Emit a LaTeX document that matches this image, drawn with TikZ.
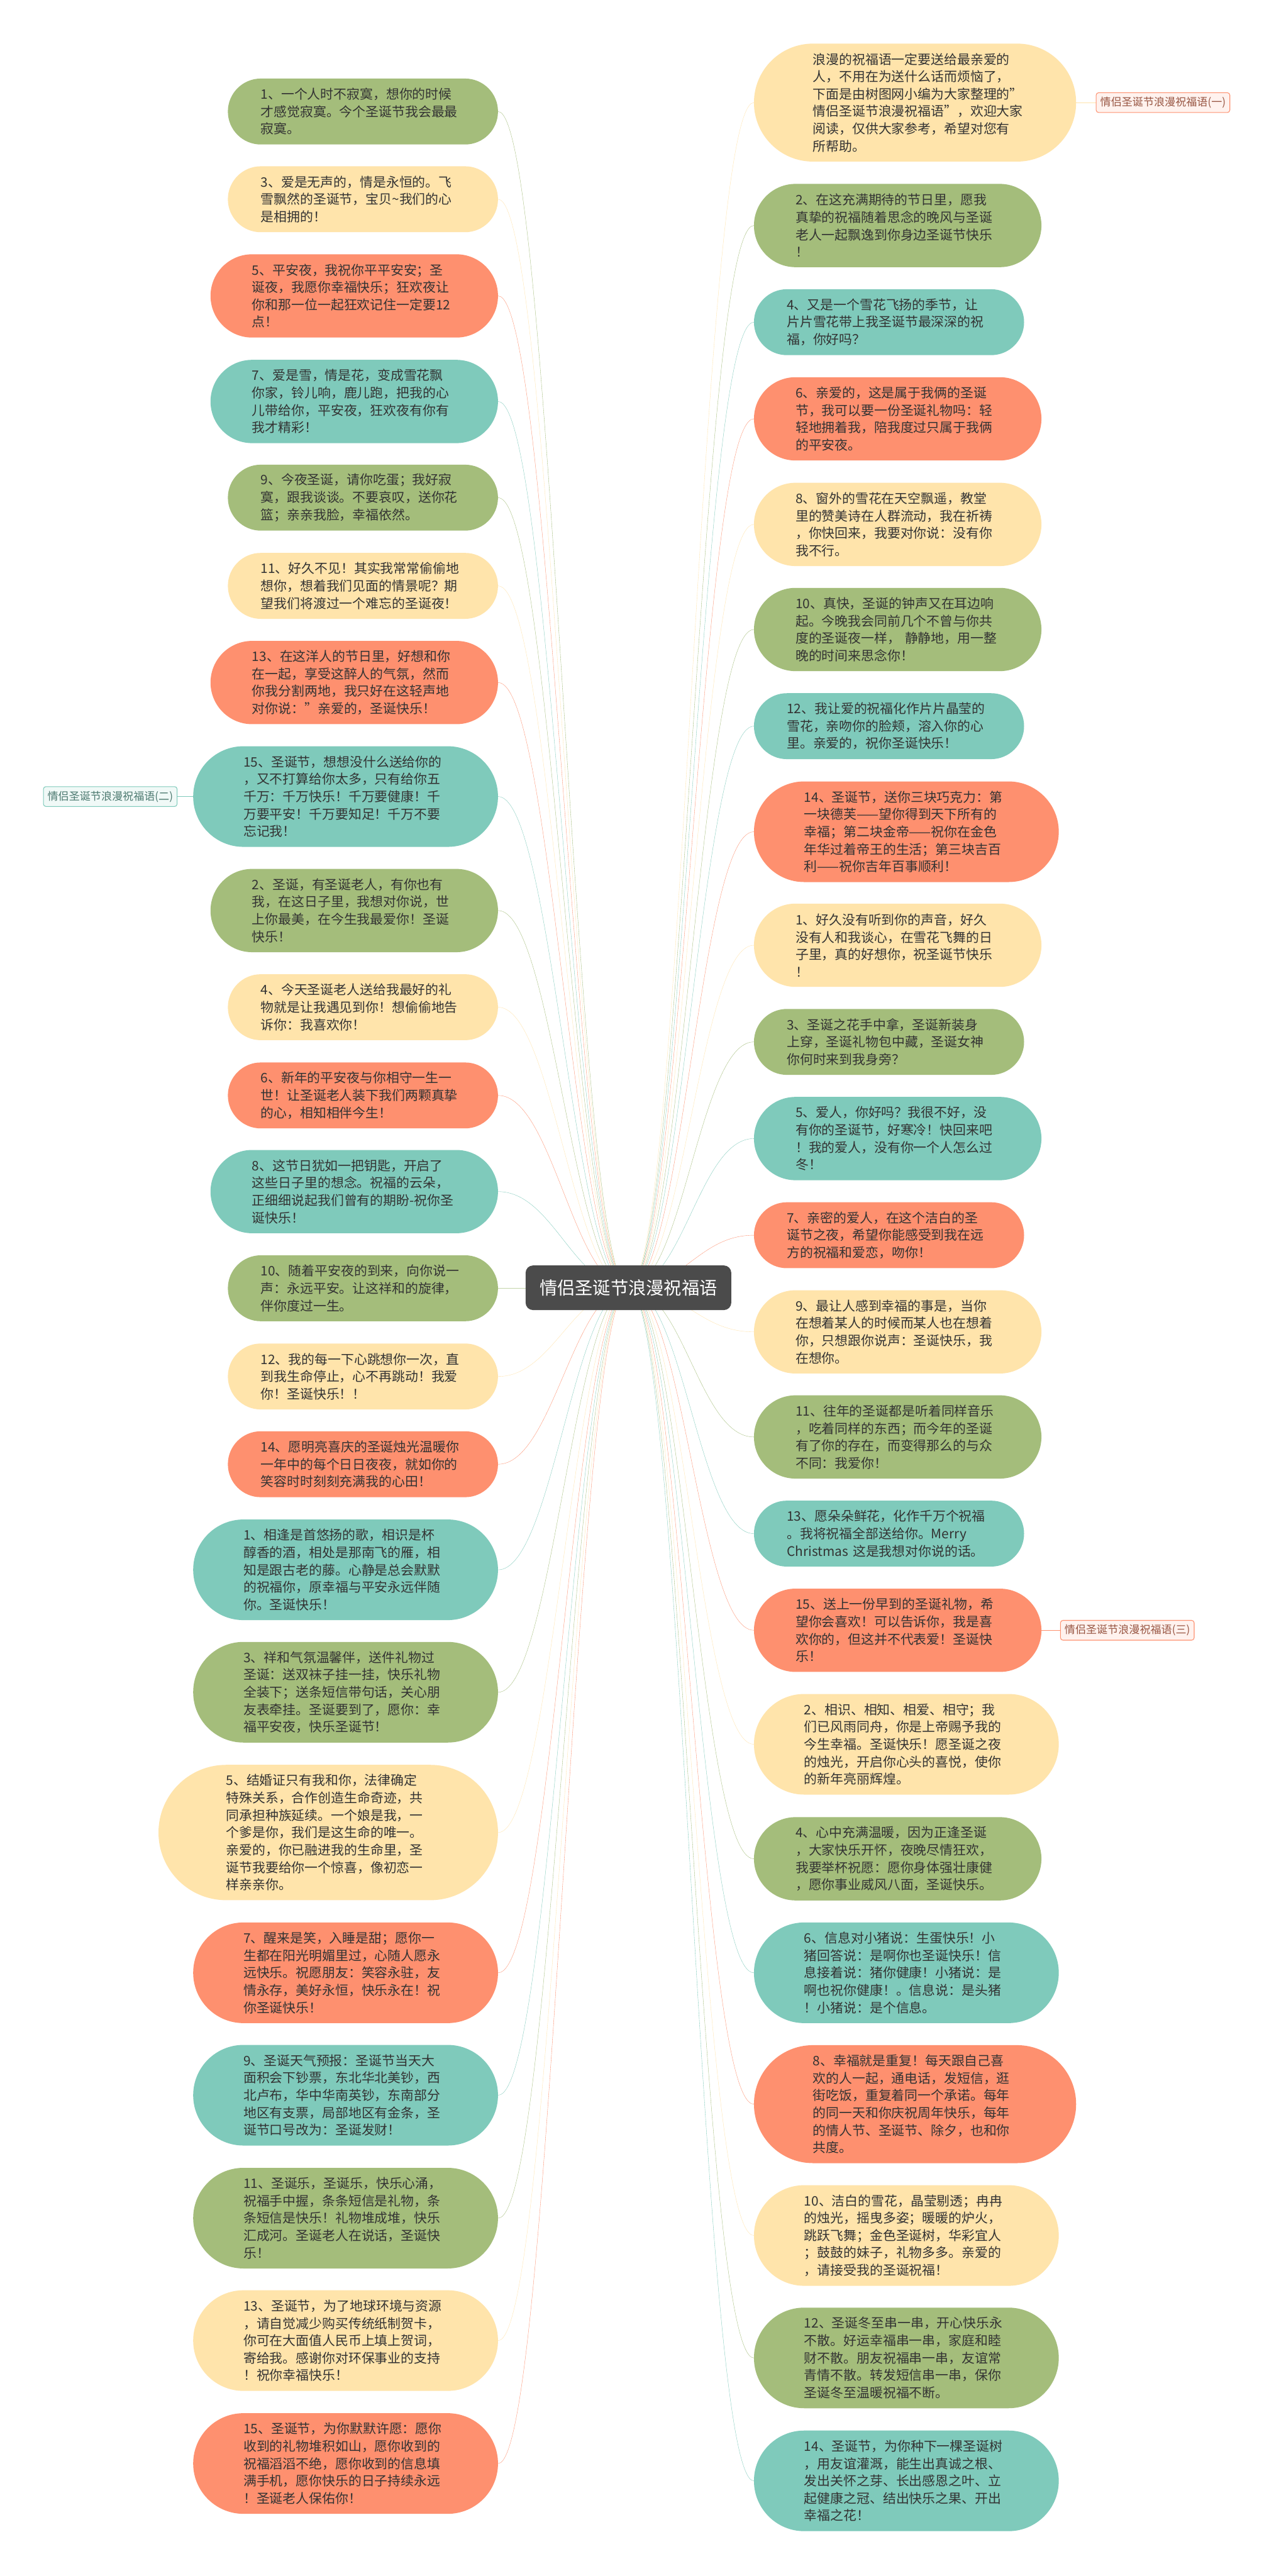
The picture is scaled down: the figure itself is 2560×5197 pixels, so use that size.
\documentclass[tikz,border=0pt]{standalone}
\usepackage{fontspec}
\setmainfont{Noto Sans CJK SC}
\usetikzlibrary{positioning,backgrounds}

\definecolor{mgreen}{HTML}{A4BD7B}
\definecolor{myellow}{HTML}{FFE4AB}
\definecolor{msalmon}{HTML}{FE906F}
\definecolor{mteal}{HTML}{7FCABB}
\definecolor{mdark}{HTML}{4B4B4B}
\definecolor{mtext}{HTML}{333333}

\newcommand\bubfont{\fontsize{22.6}{29.9}\selectfont}
\newcommand\ctrfont{\fontsize{30.6}{36}\selectfont}
\newcommand\lblfont{\fontsize{18.5}{22}\selectfont}

\tikzset{
  bub/.style={rectangle, rounded corners={(28+35*#1)*0.15mm},
    minimum height={(28+35*#1)*0.3mm}, inner xsep={(28+35*#1)*0.15mm},
    inner ysep=0pt, text width=123.6mm, align=left, font=\bubfont, text=mtext},
  ctrbox/.style={rectangle, rounded corners=4.5mm, fill=mdark, text=white,
    minimum width=124.5mm, minimum height=27mm, font=\ctrfont},
  lbl/.style={rectangle, rounded corners=1.5mm, draw=#1, fill=#1!12, text=#1!60!black,
    line width=0.4mm, minimum height=12mm, inner xsep=2.5mm, font=\lblfont},
}

\begin{document}
\begin{tikzpicture}[x=0.3mm, y=-0.3mm]
\useasboundingbox (0,0) rectangle (2560,5197);

% centre
\node[ctrbox] (ctr) at (1268,2598) {情侣圣诞节浪漫祝福语};

% left column
\node[bub=3, fill=mgreen, anchor=east] (l1) at (1005,225) {1、一个人时不寂寞，想你的时候\\才感觉寂寞。今个圣诞节我会最最\\寂寞。};
\node[bub=3, fill=myellow, anchor=east] (l2) at (1005,402) {3、爱是无声的，情是永恒的。飞\\雪飘然的圣诞节，宝贝\textasciitilde 我们的心\\是相拥的！};
\node[bub=4, fill=msalmon, anchor=east] (l3) at (1005,597) {5、平安夜，我祝你平平安安；圣\\诞夜，我愿你幸福快乐；狂欢夜让\\你和那一位一起狂欢记住一定要12\\点！};
\node[bub=4, fill=mteal, anchor=east] (l4) at (1005,810) {7、爱是雪，情是花，变成雪花飘\\你家，铃儿响，鹿儿跑，把我的心\\儿带给你，平安夜，狂欢夜有你有\\我才精彩！};
\node[bub=3, fill=mgreen, anchor=east] (l5) at (1005,1004) {9、今夜圣诞，请你吃蛋；我好寂\\寞，跟我谈谈。不要哀叹，送你花\\篮；亲亲我脸，幸福依然。};
\node[bub=3, fill=myellow, anchor=east] (l6) at (1005,1182) {11、好久不见！其实我常常偷偷地\\想你，想着我们见面的情景呢？期\\望我们将渡过一个难忘的圣诞夜！};
\node[bub=4, fill=msalmon, anchor=east] (l7) at (1005,1377) {13、在这洋人的节日里，好想和你\\在一起，享受这醉人的气氛，然而\\你我分割两地，我只好在这轻声地\\对你说："亲爱的，圣诞快乐！};
\node[bub=5, fill=mteal, anchor=east] (l8) at (1005,1607) {15、圣诞节，想想没什么送给你的\\，又不打算给你太多，只有给你五\\千万：千万快乐！千万要健康！千\\万要平安！千万要知足！千万不要\\忘记我！};
\node[bub=4, fill=mgreen, anchor=east] (l9) at (1005,1837) {2、圣诞，有圣诞老人，有你也有\\我，在这日子里，我想对你说，世\\上你最美，在今生我最爱你！圣诞\\快乐！};
\node[bub=3, fill=myellow, anchor=east] (l10) at (1005,2032) {4、今天圣诞老人送给我最好的礼\\物就是让我遇见到你！想偷偷地告\\诉你：我喜欢你！};
\node[bub=3, fill=msalmon, anchor=east] (l11) at (1005,2210) {6、新年的平安夜与你相守一生一\\世！让圣诞老人装下我们两颗真挚\\的心，相知相伴今生！};
\node[bub=4, fill=mteal, anchor=east] (l12) at (1005,2404) {8、这节日犹如一把钥匙，开启了\\这些日子里的想念。祝福的云朵，\\正细细说起我们曾有的期盼-祝你圣\\诞快乐！};
\node[bub=3, fill=mgreen, anchor=east] (l13) at (1005,2599) {10、随着平安夜的到来，向你说一\\声：永远平安。让这祥和的旋律，\\伴你度过一生。};
\node[bub=3, fill=myellow, anchor=east] (l14) at (1005,2777) {12、我的每一下心跳想你一次，直\\到我生命停止，心不再跳动！我爱\\你！圣诞快乐！！};
\node[bub=3, fill=msalmon, anchor=east] (l15) at (1005,2954) {14、愿明亮喜庆的圣诞烛光温暖你\\一年中的每个日日夜夜，就如你的\\笑容时时刻刻充满我的心田！};
\node[bub=5, fill=mteal, anchor=east] (l16) at (1005,3167) {1、相逢是首悠扬的歌，相识是杯\\醇香的酒，相处是那南飞的雁，相\\知是跟古老的藤。心静是总会默默\\的祝福你，原幸福与平安永远伴随\\你。圣诞快乐！};
\node[bub=5, fill=mgreen, anchor=east] (l17) at (1005,3414) {3、祥和气氛温馨伴，送件礼物过\\圣诞：送双袜子挂一挂，快乐礼物\\全装下；送条短信带句话，关心朋\\友表牵挂。圣诞要到了，愿你：幸\\福平安夜，快乐圣诞节！};
\node[bub=7, fill=myellow, anchor=east] (l18) at (1005,3697) {5、结婚证只有我和你，法律确定\\特殊关系，合作创造生命奇迹，共\\同承担种族延续。一个娘是我，一\\个爹是你，我们是这生命的唯一。\\亲爱的，你已融进我的生命里，圣\\诞节我要给你一个惊喜，像初恋一\\样亲亲你。};
\node[bub=5, fill=msalmon, anchor=east] (l19) at (1005,3980) {7、醒来是笑，入睡是甜；愿你一\\生都在阳光明媚里过，心随人愿永\\远快乐。祝愿朋友：笑容永驻，友\\情永存，美好永恒，快乐永在！祝\\你圣诞快乐！};
\node[bub=5, fill=mteal, anchor=east] (l20) at (1005,4227) {9、圣诞天气预报：圣诞节当天大\\面积会下钞票，东北华北美钞，西\\北卢布，华中华南英钞，东南部分\\地区有支票，局部地区有金条，圣\\诞节口号改为：圣诞发财！};
\node[bub=5, fill=mgreen, anchor=east] (l21) at (1005,4475) {11、圣诞乐，圣诞乐，快乐心涌，\\祝福手中握，条条短信是礼物，条\\条短信是快乐！礼物堆成堆，快乐\\汇成河。圣诞老人在说话，圣诞快\\乐！};
\node[bub=5, fill=myellow, anchor=east] (l22) at (1005,4722) {13、圣诞节，为了地球环境与资源\\，请自觉减少购买传统纸制贺卡，\\你可在大面值人民币上填上贺词，\\寄给我。感谢你对环保事业的支持\\！祝你幸福快乐！};
\node[bub=5, fill=msalmon, anchor=east] (l23) at (1005,4970) {15、圣诞节，为你默默许愿：愿你\\收到的礼物堆积如山，愿你收到的\\祝福滔滔不绝，愿你收到的信息填\\满手机，愿你快乐的日子持续永远\\！圣诞老人保佑你！};

% right column
\node[bub=6, fill=myellow, anchor=west] (r0) at (1521,207) {浪漫的祝福语一定要送给最亲爱的\\人，不用在为送什么话而烦恼了，\\下面是由树图网小编为大家整理的"\\情侣圣诞节浪漫祝福语"，欢迎大家\\阅读，仅供大家参考，希望对您有\\所帮助。};
\node[bub=4, fill=mgreen, anchor=west] (r1) at (1521,455) {2、在这充满期待的节日里，愿我\\真挚的祝福随着思念的晚风与圣诞\\老人一起飘逸到你身边圣诞节快乐\\！};
\node[bub=3, fill=mteal, anchor=west] (r2) at (1521,650) {4、又是一个雪花飞扬的季节，让\\片片雪花带上我圣诞节最深深的祝\\福，你好吗？};
\node[bub=4, fill=msalmon, anchor=west] (r3) at (1521,845) {6、亲爱的，这是属于我俩的圣诞\\节，我可以要一份圣诞礼物吗：轻\\轻地拥着我，陪我度过只属于我俩\\的平安夜。};
\node[bub=4, fill=myellow, anchor=west] (r4) at (1521,1058) {8、窗外的雪花在天空飘遥，教堂\\里的赞美诗在人群流动，我在祈祷\\，你快回来，我要对你说：没有你\\我不行。};
\node[bub=4, fill=mgreen, anchor=west] (r5) at (1521,1270) {10、真快，圣诞的钟声又在耳边响\\起。今晚我会同前几个不曾与你共\\度的圣诞夜一样， 静静地，用一整\\晚的时间来思念你！};
\node[bub=3, fill=mteal, anchor=west] (r6) at (1521,1465) {12、我让爱的祝福化作片片晶莹的\\雪花，亲吻你的脸颊，溶入你的心\\里。亲爱的，祝你圣诞快乐！};
\node[bub=5, fill=msalmon, anchor=west] (r7) at (1521,1678) {14、圣诞节，送你三块巧克力：第\\一块德芙——望你得到天下所有的\\幸福；第二块金帝——祝你在金色\\年华过着帝王的生活；第三块吉百\\利——祝你吉年百事顺利！};
\node[bub=4, fill=myellow, anchor=west] (r8) at (1521,1907) {1、好久没有听到你的声音，好久\\没有人和我谈心，在雪花飞舞的日\\子里，真的好想你，祝圣诞节快乐\\！};
\node[bub=3, fill=mgreen, anchor=west] (r9) at (1521,2102) {3、圣诞之花手中拿，圣诞新装身\\上穿，圣诞礼物包中藏，圣诞女神\\你何时来到我身旁？};
\node[bub=4, fill=mteal, anchor=west] (r10) at (1521,2297) {5、爱人，你好吗？我很不好，没\\有你的圣诞节，好寒冷！快回来吧\\！我的爱人，没有你一个人怎么过\\冬！};
\node[bub=3, fill=msalmon, anchor=west] (r11) at (1521,2492) {7、亲密的爱人，在这个洁白的圣\\诞节之夜，希望你能感受到我在远\\方的祝福和爱恋，吻你！};
\node[bub=4, fill=myellow, anchor=west] (r12) at (1521,2687) {9、最让人感到幸福的事是，当你\\在想着某人的时候而某人也在想着\\你，只想跟你说声：圣诞快乐，我\\在想你。};
\node[bub=4, fill=mgreen, anchor=west] (r13) at (1521,2899) {11、往年的圣诞都是听着同样音乐\\，吃着同样的东西；而今年的圣诞\\有了你的存在，而变得那么的与众\\不同：我爱你！};
\node[bub=3, fill=mteal, anchor=west] (r14) at (1521,3094) {13、愿朵朵鲜花，化作千万个祝福\\。我将祝福全部送给你。Merry\\Christmas 这是我想对你说的话。};
\node[bub=4, fill=msalmon, anchor=west] (r15) at (1521,3289) {15、送上一份早到的圣诞礼物，希\\望你会喜欢！可以告诉你，我是喜\\欢你的，但这并不代表爱！圣诞快\\乐！};
\node[bub=5, fill=myellow, anchor=west] (r16) at (1521,3519) {2、相识、相知、相爱、相守；我\\们已风雨同舟，你是上帝赐予我的\\今生幸福。圣诞快乐！愿圣诞之夜\\的烛光，开启你心头的喜悦，使你\\的新年亮丽辉煌。};
\node[bub=4, fill=mgreen, anchor=west] (r17) at (1521,3750) {4、心中充满温暖，因为正逢圣诞\\，大家快乐开怀，夜晚尽情狂欢，\\我要举杯祝愿：愿你身体强壮康健\\，愿你事业威风八面，圣诞快乐。};
\node[bub=5, fill=mteal, anchor=west] (r18) at (1521,3980) {6、信息对小猪说：生蛋快乐！小\\猪回答说：是啊你也圣诞快乐！信\\息接着说：猪你健康！小猪说：是\\啊也祝你健康！。信息说：是头猪\\！小猪说：是个信息。};
\node[bub=6, fill=msalmon, anchor=west] (r19) at (1521,4245) {8、幸福就是重复！每天跟自己喜\\欢的人一起，通电话，发短信，逛\\街吃饭，重复着同一个承诺。每年\\的同一天和你庆祝周年快乐，每年\\的情人节、圣诞节、除夕，也和你\\共度。};
\node[bub=5, fill=myellow, anchor=west] (r20) at (1521,4510) {10、洁白的雪花，晶莹剔透；冉冉\\的烛光，摇曳多姿；暖暖的炉火，\\跳跃飞舞；金色圣诞树，华彩宜人\\；鼓鼓的妹子，礼物多多。亲爱的\\，请接受我的圣诞祝福！};
\node[bub=5, fill=mgreen, anchor=west] (r21) at (1521,4757) {12、圣诞冬至串一串，开心快乐永\\不散。好运幸福串一串，家庭和睦\\财不散。朋友祝福串一串，友谊常\\青情不散。转发短信串一串，保你\\圣诞冬至温暖祝福不断。};
\node[bub=5, fill=mteal, anchor=west] (r22) at (1521,5005) {14、圣诞节，为你种下一棵圣诞树\\，用友谊灌溉，能生出真诚之根、\\发出关怀之芽、长出感恩之叶、立\\起健康之冠、结出快乐之果、开出\\幸福之花！};

% group labels
\node[lbl=msalmon, anchor=west] (g1) at (2211,207) {情侣圣诞节浪漫祝福语(一)};
\node[lbl=mteal, anchor=east] (g2) at (358,1607) {情侣圣诞节浪漫祝福语(二)};
\node[lbl=msalmon, anchor=west] (g3) at (2139,3289) {情侣圣诞节浪漫祝福语(三)};

% connectors
\begin{scope}[on background layer, line width=0.9mm]
  \fill[white] (0,0) rectangle (2560,5197);
  \foreach \n/\col in {l1/mgreen, l2/myellow, l3/msalmon, l4/mteal, l5/mgreen, l6/myellow,
      l7/msalmon, l8/mteal, l9/mgreen, l10/myellow, l11/msalmon, l12/mteal, l13/mgreen,
      l14/myellow, l15/msalmon, l16/mteal, l17/mgreen, l18/myellow, l19/msalmon,
      l20/mteal, l21/mgreen, l22/myellow, l23/msalmon}
    \draw[\col] (ctr.center) .. controls +(-110,0) and +(110,0) .. (\n.east);
  \foreach \n/\col in {r0/myellow, r1/mgreen, r2/mteal, r3/msalmon, r4/myellow, r5/mgreen,
      r6/mteal, r7/msalmon, r8/myellow, r9/mgreen, r10/mteal, r11/msalmon, r12/myellow,
      r13/mgreen, r14/mteal, r15/msalmon, r16/myellow, r17/mgreen, r18/mteal,
      r19/msalmon, r20/myellow, r21/mgreen, r22/mteal}
    \draw[\col] (ctr.center) .. controls +(110,0) and +(-110,0) .. (\n.west);
  \draw[myellow] (r0.east) -- (g1.west);
  \draw[mteal] (l8.west) -- (g2.east);
  \draw[msalmon] (r15.east) -- (g3.west);
\end{scope}
\end{tikzpicture}
\end{document}
